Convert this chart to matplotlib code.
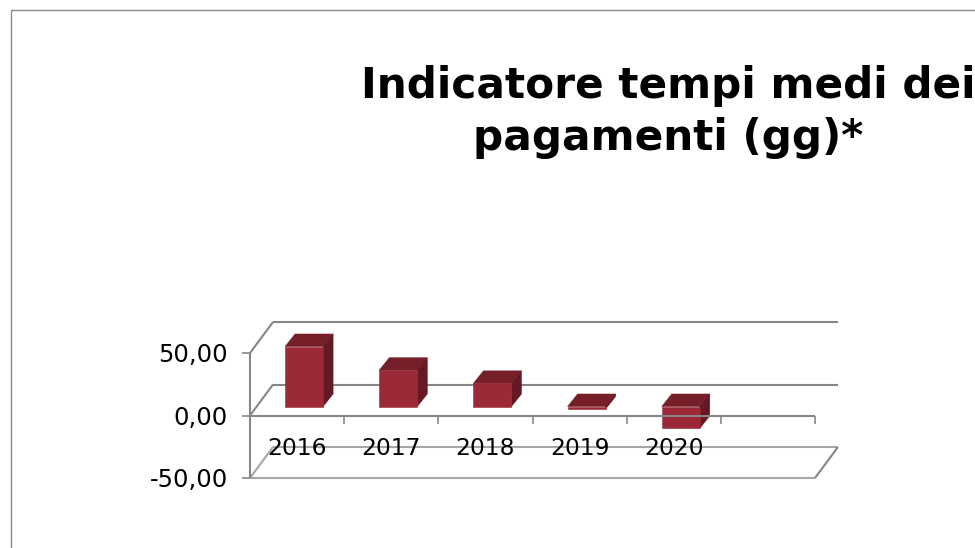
import matplotlib
matplotlib.use('Agg')
import matplotlib.pyplot as plt
from matplotlib.lines import Line2D
from matplotlib.patches import Polygon

years = ['2016', '2017', '2018', '2019', '2020']
values = [48.0, 29.0, 18.5, -2.0, -17.5]
ytick_values = [-50, 0, 50]
ytick_labels = ['-50,00', '0,00', '50,00']
title = 'Indicatore tempi medi dei\npagamenti (gg)*'

W, H = 975, 548
GRID = '#868686'
FLOOR = '#a6a6a6'
FRONT = '#9c2937'
TOP = '#771f29'
SIDE = '#641a22'

fig = plt.figure(figsize=(W / 100, H / 100), dpi=100)
fig.patch.set_facecolor('white')

# plot area in pixels: x 250..815, y 353..478
ax = fig.add_axes([250 / W, 1 - 478 / H, 565 / W, 125 / H])
ax.set_xlim(0, 6)
ax.set_ylim(-50, 50)
ax.axis('off')

# oblique offset of the back wall, and of the bars, in data units
px_x = 6 / 565
px_y = 100 / 125
wall_dx, wall_dy = 23 * px_x, 31 * px_y
bar_dx, bar_dy = 10 * px_x, 12.5 * px_y
front_dx, front_dy = 7 * px_x, 9 * px_y
bar_w = 38 * px_x


def line(xs, ys, color=GRID, lw=1.5, z=1):
    ax.plot(xs, ys, color=color, lw=lw, zorder=z, clip_on=False, solid_capstyle='butt')


# back wall and side wall gridlines
for v in ytick_values:
    c = FLOOR if v == -50 else GRID
    line([wall_dx, 6 + wall_dx], [v + wall_dy, v + wall_dy], c)
    line([0, wall_dx], [v, v + wall_dy], c)
line([0, 6], [-50, -50], FLOOR)
line([6, 6 + wall_dx], [-50, -50 + wall_dy], GRID)

# bars
for i, v in enumerate(values):
    x0 = i + 0.5 - bar_w / 2 + front_dx
    x1 = x0 + bar_w
    y0 = front_dy
    y1 = v + front_dy
    hi = max(y0, y1)
    lo = min(y0, y1)
    ax.add_patch(Polygon([(x0, hi), (x1, hi), (x1 + bar_dx, hi + bar_dy), (x0 + bar_dx, hi + bar_dy)],
                         fc=TOP, ec=TOP, lw=0.4, zorder=2, clip_on=False))
    ax.add_patch(Polygon([(x1, lo), (x1 + bar_dx, lo + bar_dy), (x1 + bar_dx, hi + bar_dy), (x1, hi)],
                         fc=SIDE, ec=SIDE, lw=0.4, zorder=2, clip_on=False))
    ax.add_patch(Polygon([(x0, lo), (x1, lo), (x1, hi), (x0, hi)],
                         fc=FRONT, ec=FRONT, lw=0.4, zorder=3, clip_on=False))

# axes in front of the bars
line([0, 0], [-50, 50], GRID, z=4)
line([0, 6], [0, 0], GRID, z=4)
for i in range(7):
    line([i, i], [0, -6.4], GRID, lw=1.2, z=4)
for v, lab in zip(ytick_values, ytick_labels):
    line([-8 * px_x, 0], [v, v], GRID, lw=1.2, z=4)
    ax.text(-22 * px_x, v - 1.6, lab, ha='right', va='center', fontsize=17.5, color='black', zorder=5)

for i, y in enumerate(years):
    ax.text(i + 0.5, -26.4, y, ha='center', va='center', fontsize=16.8, color='black', zorder=5)

# chart border, only left and top are inside the picture
fig.add_artist(Line2D([11 / W, 11 / W, 1], [0, 1 - 9.5 / H, 1 - 9.5 / H], color='#8c8c8c', lw=1.0))

fig.text(668 / W, 1 - 112 / H, title, ha='center', va='center', fontsize=30.4, fontweight='bold',
         color='black', linespacing=1.32)

fig.savefig('out.png', dpi=100)
